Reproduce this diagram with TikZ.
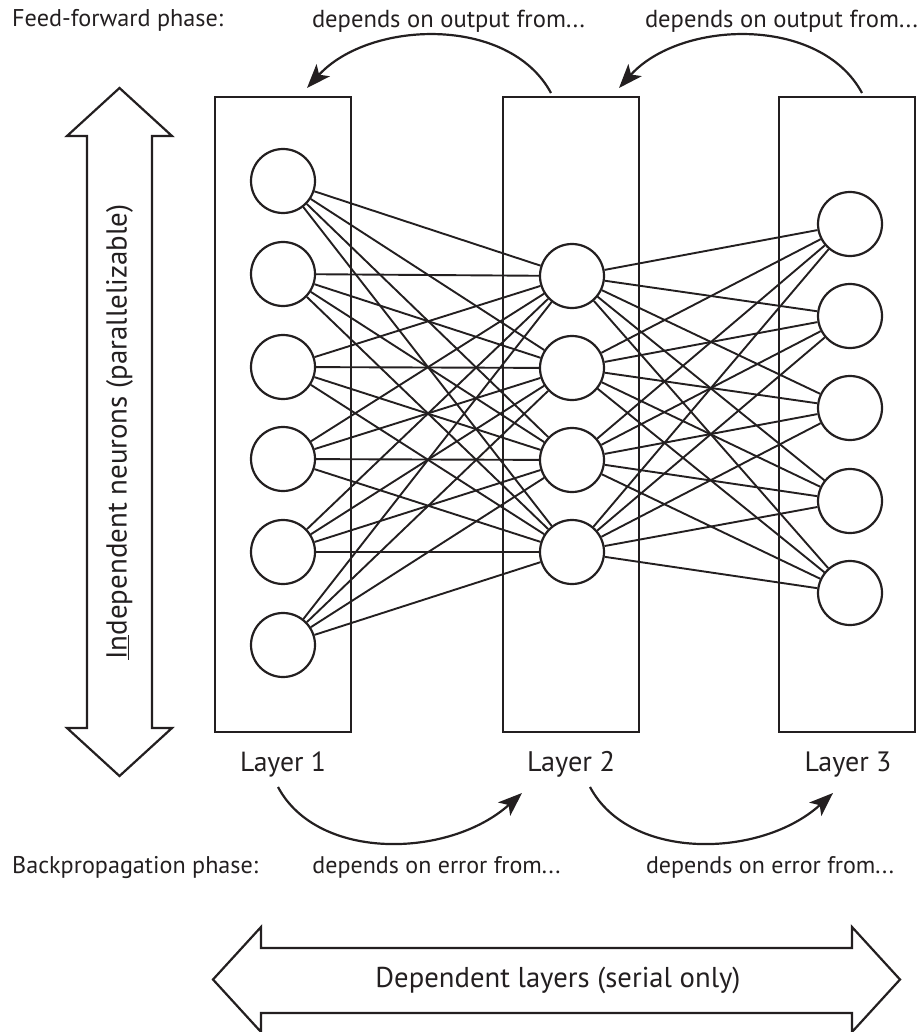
\documentclass[tikz,border=0pt]{standalone}
\usepackage{fontspec}
\usepackage{graphicx}
\setmainfont{PT Sans}
\usetikzlibrary{arrows.meta}
\definecolor{ink}{HTML}{231F20}
% set a label to a given printed width
\newcommand\labelto[2]{\resizebox{#1}{!}{#2}}
\begin{document}
\begin{tikzpicture}[x=1pt,y=-1pt,line join=miter,
  neuron/.style={circle,draw=ink,line width=2.2pt,minimum size=64pt,inner sep=0pt,fill=white},
  layerbox/.style={draw=ink,line width=2.2pt,minimum width=136pt,minimum height=635pt,inner sep=0pt},
  link/.style={draw=ink,line width=1.9pt},
  flow/.style={draw=ink,line width=2.2pt,-{Stealth[length=24pt,width=18pt,inset=6pt]}},
  blockarrow/.style={draw=ink,line width=2.2pt,fill=white,line join=miter},
  txt/.style={font=\fontsize{20}{24}\selectfont,text=ink,inner sep=0pt}]

\useasboundingbox (0,0) rectangle (922,1032);

% layer frames
\node[layerbox] (L1) at (283,414.5) {};
\node[layerbox] (L2) at (571,414.5) {};
\node[layerbox] (L3) at (847,414.5) {};

% neurons
\foreach \i/\y in {1/181,2/274,3/367,4/459,5/552,6/645}
  \node[neuron] (a\i) at (283,\y) {};
\foreach \i/\y in {1/276,2/368,3/460,4/552}
  \node[neuron] (b\i) at (572,\y) {};
\foreach \i/\y in {1/224,2/316,3/408,4/501,5/593}
  \node[neuron] (c\i) at (850,\y) {};

% full connections between consecutive layers
\foreach \i in {1,...,6}
  \foreach \j in {1,...,4}
    \draw[link] (a\i) -- (b\j);
\foreach \i in {1,...,4}
  \foreach \j in {1,...,5}
    \draw[link] (b\i) -- (c\j);

% layer names
\node[txt,anchor=base] (n1) at (283,771) {\labelto{86pt}{Layer 1}};
\node[txt,anchor=base] (n2) at (571,771) {\labelto{88pt}{Layer 2}};
\node[txt,anchor=base] (n3) at (848,771) {\labelto{87pt}{Layer 3}};

% feed-forward dependencies
\node[txt,anchor=base west] (ffp) at (12,27) {\labelto{211pt}{Feed-forward phase:}};
\node[txt,anchor=base] (ffa) at (448.5,28) {\labelto{273pt}{depends on output from...}};
\node[txt,anchor=base] (ffb) at (781.5,28) {\labelto{273pt}{depends on output from...}};
\coordinate (ff1s) at (551,93);
\coordinate (ff1e) at (307,88);
\coordinate (ff2s) at (862,93);
\coordinate (ff2e) at (619,88);
\draw[flow] (ff1s) .. controls (509,15) and (369,20) .. (ff1e);
\draw[flow] (ff2s) .. controls (820,15) and (680,20) .. (ff2e);

% backpropagation dependencies
\node[txt,anchor=base west] (bpp) at (12,873) {\labelto{246pt}{Backpropagation phase:}};
\node[txt,anchor=base] (bpa) at (436.5,873) {\labelto{248pt}{depends on error from...}};
\node[txt,anchor=base] (bpb) at (770,873) {\labelto{248pt}{depends on error from...}};
\coordinate (bp1s) at (278,787);
\coordinate (bp1e) at (522,793);
\coordinate (bp2s) at (590,787);
\coordinate (bp2e) at (833,793);
\draw[flow] (bp1s) .. controls (318,862) and (450,858) .. (bp1e);
\draw[flow] (bp2s) .. controls (630,862) and (762,858) .. (bp2e);

% vertical double block arrow
\draw[blockarrow] (119.5,88) -- (172,136) -- (152,136) -- (152,728) -- (172,728)
  -- (119.5,776) -- (67,728) -- (87,728) -- (87,136) -- (67,136) -- cycle;
\node[txt,rotate=90] (indep) at (119.5,432)
  {\labelto{455pt}{\underline{In}dependent neurons (parallelizable)}};

% horizontal double block arrow
\draw[blockarrow] (213,979.5) -- (261,927) -- (261,948) -- (852,948) -- (852,927)
  -- (900,979.5) -- (852,1032) -- (852,1013) -- (261,1013) -- (261,1032) -- cycle;
\node[txt] (dep) at (558,980) {\labelto{365pt}{Dependent layers (serial only)}};
\end{tikzpicture}
\end{document}
